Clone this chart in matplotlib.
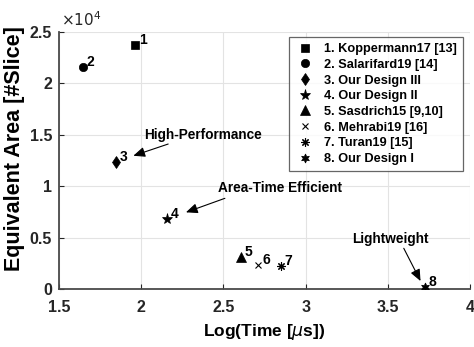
import matplotlib
matplotlib.use("Agg")
import matplotlib.pyplot as plt
from matplotlib.ticker import FuncFormatter

plt.rcParams['font.family'] = ['Liberation Sans', 'DejaVu Sans']
plt.rcParams['mathtext.fontset'] = 'dejavusans'

# ---- data ----
labels = ["1. Koppermann17 [13]", "2. Salarifard19 [14]", "3. Our Design III",
          "4. Our Design II", "5. Sasdrich15 [9,10]", "6. Mehrabi19 [16]",
          "7. Turan19 [15]", "8. Our Design I"]
nums = ["1", "2", "3", "4", "5", "6", "7", "8"]
log_time = [1.962, 1.644, 1.845, 2.155, 2.605, 2.712, 2.848, 3.725]
area = [23700, 21600, 12400, 6800, 3100, 2400, 2300, 200]
xticks = [1.5, 2, 2.5, 3, 3.5, 4]
yticks = [0, 5000, 10000, 15000, 20000, 25000]

# annotation texts: (text, text pos, arrow tail, arrow head)
notes = [
    ("High-Performance", (2.375, 15000), (2.164, 14100), (1.952, 12960)),
    ("Area-Time Efficient", (2.843, 9830), (2.509, 8830), (2.272, 7470)),
    ("Lightweight", (3.515, 4880), (3.597, 3980), (3.699, 800)),
]

markers = ['s', 'o', 'd', '*', '^', 'x', (8, 2, 0), (6, 1, 0)]
msizes = [5.5, 6, 6.5, 8, 6.5, 4, 6, 6.5]

fig = plt.figure(figsize=(4.74, 3.47), dpi=100)
ax = fig.add_axes([0.1245, 0.1663, 0.8671, 0.7423])

for i in range(len(labels)):
    mk = markers[i]
    lw = 0.8 if mk in ('x',) or mk == (8, 2, 0) else 0.5
    ax.plot(log_time[i], area[i], linestyle='none', marker=mk, markersize=msizes[i],
            color='k', markerfacecolor='k', markeredgecolor='k', markeredgewidth=lw,
            label=labels[i], zorder=3)
    ax.annotate(nums[i], (log_time[i], area[i]), xytext=(3, 3.5),
                textcoords='offset points', ha='left', va='center',
                fontsize=10, fontweight='bold', zorder=4)

for txt, tpos, tail, head in notes:
    ax.text(tpos[0], tpos[1], txt, ha='center', va='center', fontsize=9.8,
            fontweight='bold')
    ax.annotate("", xy=head, xytext=tail,
                arrowprops=dict(arrowstyle='-|>,head_length=0.7,head_width=0.3',
                                color='k', lw=0.8, shrinkA=0, shrinkB=0))

ax.set_xlim(1.5, 4)
ax.set_ylim(0, 25000)
ax.set_xticks(xticks)
ax.set_yticks(yticks)
ax.xaxis.set_major_formatter(FuncFormatter(lambda v, p: f"{v:g}"))
ax.yaxis.set_major_formatter(FuncFormatter(lambda v, p: f"{v/1e4:g}"))
for lab in ax.get_xticklabels() + ax.get_yticklabels():
    lab.set_fontweight('bold')
ax.tick_params(axis='both', direction='in', length=3.5, width=0.8,
               labelsize=11.5, colors='#262626')
ax.tick_params(axis='x', pad=8)
ax.tick_params(axis='y', pad=5)

ax.grid(True, color='#e3e3e3', linewidth=0.8)
ax.set_axisbelow(True)
for s in ['top', 'right']:
    ax.spines[s].set_visible(False)
for s in ['left', 'bottom']:
    ax.spines[s].set_color('#4a4a4a')
    ax.spines[s].set_linewidth(1.3)

ax.set_xlabel(r"Log(Time [$\mu$s])", fontsize=12.5, fontweight='bold', labelpad=5)
ax.set_ylabel("Equivalent Area [#Slice]", fontsize=15.5, fontweight='bold')
ax.yaxis.set_label_coords(-0.083, 0.545)

ax.text(0.005, 1.012, r"$\times10^{4}$", transform=ax.transAxes, fontsize=11,
        ha='left', va='bottom', color='#262626')

leg = ax.legend(loc='upper right', bbox_to_anchor=(0.983, 0.978), fontsize=9.2,
                frameon=True, fancybox=False, handlelength=1.6, handletextpad=0.75,
                labelspacing=0.29, borderpad=0.45, borderaxespad=0)
leg.get_frame().set_edgecolor('#404040')
leg.get_frame().set_linewidth(0.9)
for t in leg.get_texts():
    t.set_fontweight('bold')

fig.savefig("out.png", dpi=100)
